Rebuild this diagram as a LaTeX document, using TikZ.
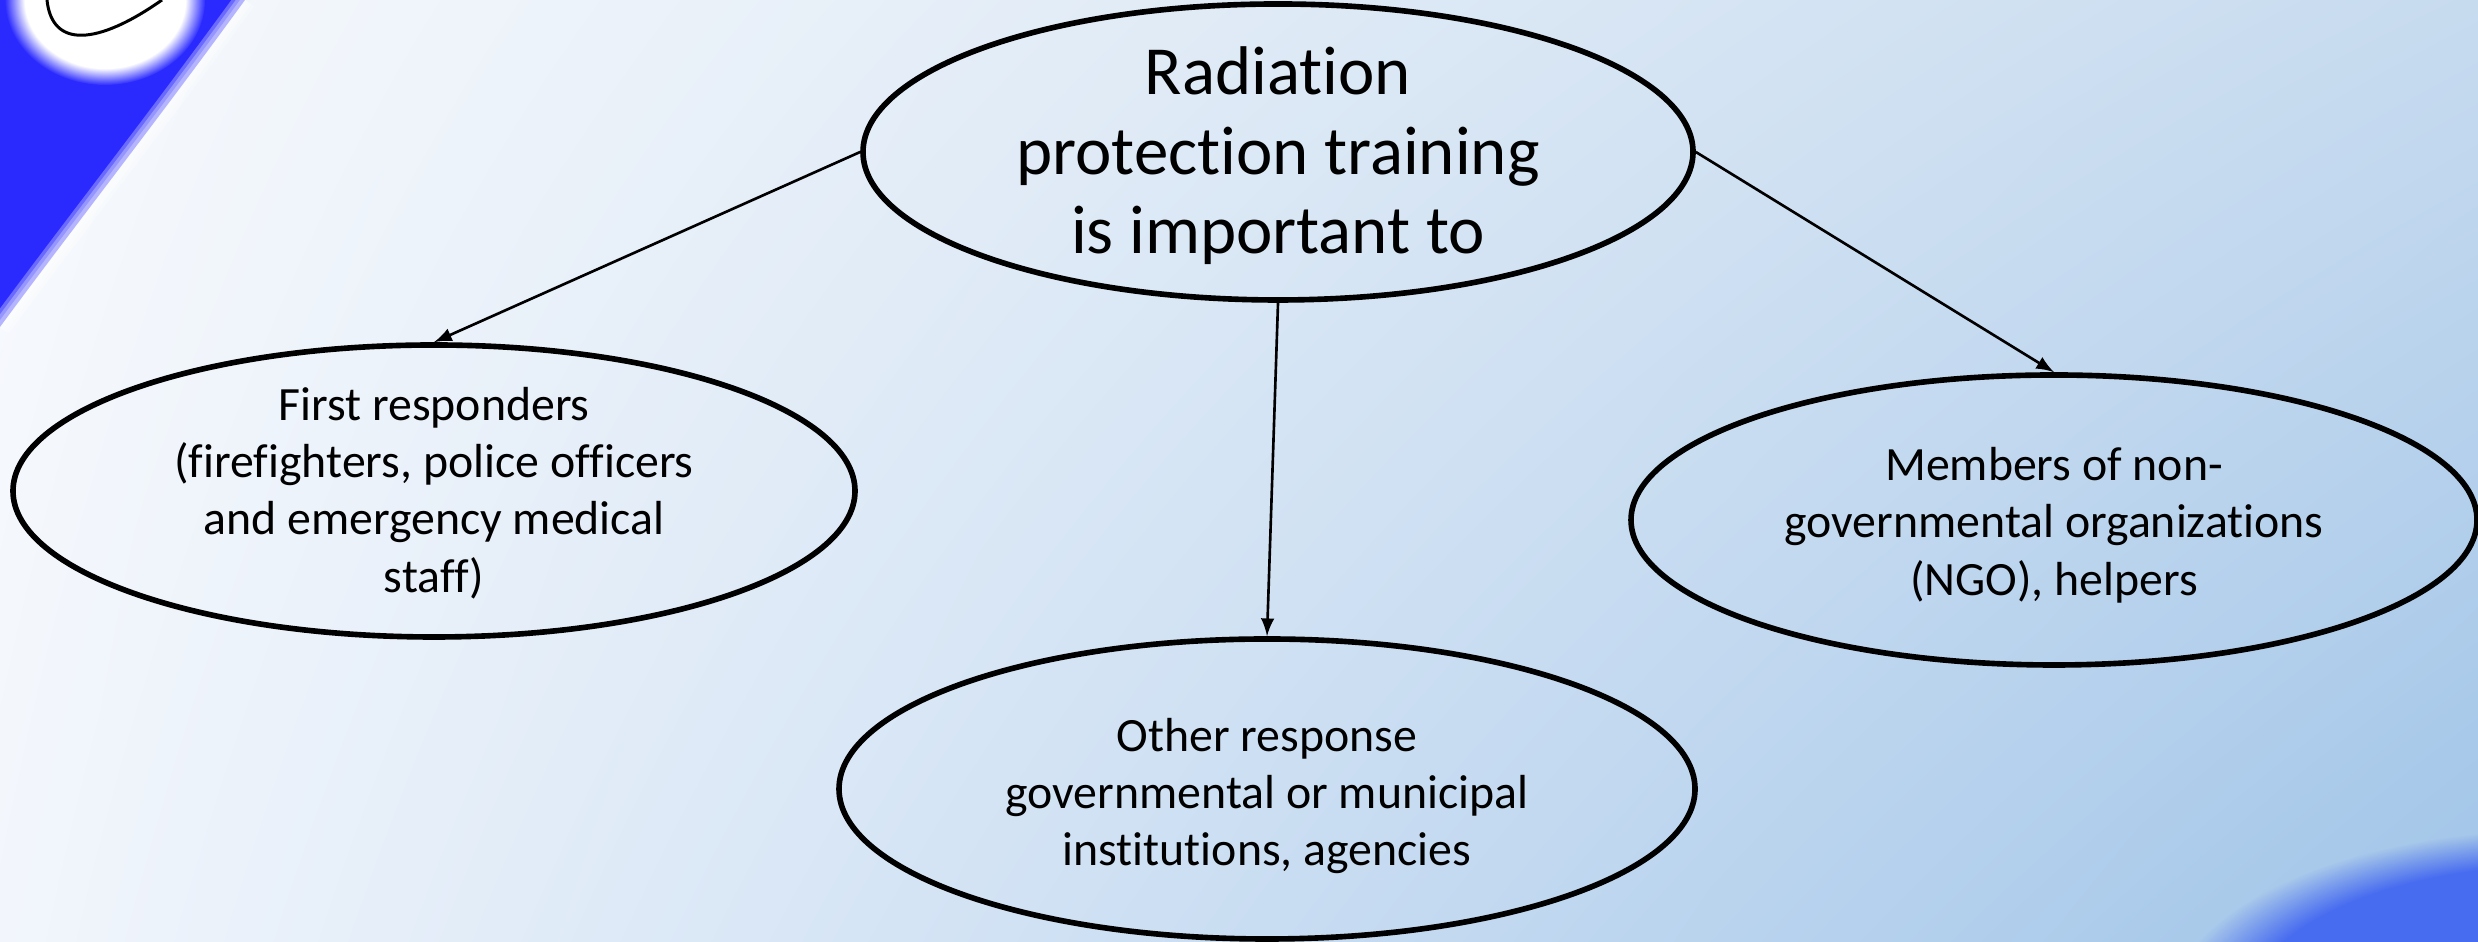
\documentclass[tikz,border=0pt]{standalone}
\usepackage{fontspec}
\setmainfont{Carlito}[Ligatures=NoCommon]
\usepackage{tikz}
\usetikzlibrary{arrows,shapes,calc,fadings,shadings}

\definecolor{bgul}{RGB}{248,250,253}
\definecolor{bgur}{RGB}{199,219,239}
\definecolor{bgll}{RGB}{242,246,252}
\definecolor{bglr}{RGB}{160,196,232}
\definecolor{swoosh}{RGB}{42,42,255}
\definecolor{glow}{RGB}{72,108,240}

\begin{document}
\begin{tikzpicture}[bubble/.style={draw,ellipse,line width=1.6pt},
  big/.style={align=center,font=\fontsize{19.6pt}{22.6pt}\selectfont},
  small/.style={align=center,font=\fontsize{13.6pt}{16.3pt}\selectfont},
  link/.style={-latex,line width=0.75pt}]
%background
\useasboundingbox (0,0) rectangle (24.78,9.42);
\shade[upper left=bgul,upper right=bgur,lower left=bgll,lower right=bglr] (0,0) rectangle (24.78,9.42);
\fill[glow,path fading=circle with fuzzy edge 20 percent] (25.6,-0.68) ellipse (3.9 and 1.8);

%corner swoosh
\fill[swoosh] (0,9.42) -- (2.45,9.42) .. controls (1.6,8.25) and (0.7,7.1) .. (0,6.15) -- cycle;
\foreach \w in {0.22,0.15,0.08}
  \draw[white,opacity=0.3,line width=\w cm] (2.45,9.42) .. controls (1.6,8.25) and (0.7,7.1) .. (0,6.15);
\fill[white,path fading=circle with fuzzy edge 20 percent] (1.05,9.42) ellipse (1.0 and 0.85);
\draw[line width=0.85pt] (0.47,9.42) .. controls (0.52,8.93) and (0.98,8.97) .. (1.62,9.42);

%ellipses
\node[bubble,minimum width=8.30cm,minimum height=2.96cm] (train) at (12.78,7.90) {};
\node[bubble,minimum width=8.42cm,minimum height=2.92cm] (first) at (4.34,4.51) {};
\node[bubble,minimum width=8.46cm,minimum height=2.90cm] (ngo) at (20.54,4.22) {};
\node[bubble,minimum width=8.56cm,minimum height=3.00cm] (other) at (12.67,1.53) {};

\node[big] (train-t) at ($(train)+(0,-0.04)$) {Radiation\\protection training\\is important to};
\node[small] (first-t) at ($(first)+(0,-0.02)$) {First responders\\(firefighters, police officers\\and emergency medical\\staff)};
\node[small] (ngo-t) at ($(ngo)+(0,-0.05)$) {Members of non-\\governmental organizations\\(NGO), helpers};
\node[small] (other-t) at ($(other)+(0,-0.07)$) {Other response\\governmental or municipal\\institutions, agencies};

%arrows
\draw[link] (train.west) -- (first.north);
\draw[link] (train.south) -- (other.north);
\draw[link] (train.east) -- (ngo.north);
\end{tikzpicture}
\end{document}
